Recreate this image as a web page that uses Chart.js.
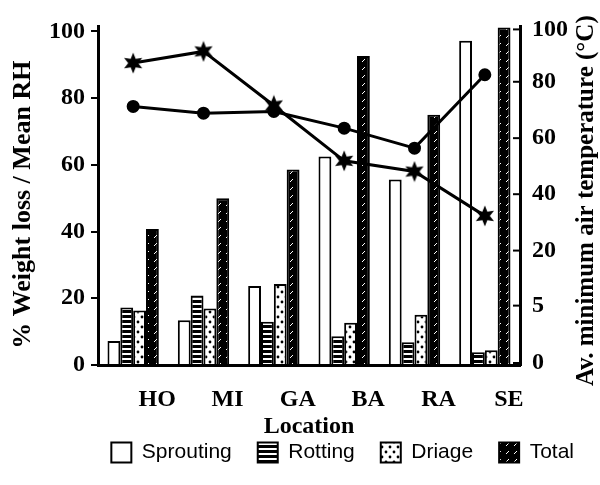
<!DOCTYPE html>
<html><head><meta charset="utf-8">
<script src="https://cdn.jsdelivr.net/npm/chart.js@4"></script>
<style>html,body{margin:0;padding:0;background:#fff}</style>
</head><body>
<canvas id="c" width="600" height="485"></canvas>
<script>
// ---- data ----
const locations = ['HO', 'MI', 'GA', 'BA', 'RA', 'SE'];
const sprouting = [7.2, 13.4, 23.7, 62.5, 55.6, 97.2];
const rotting   = [17.2, 20.8, 13.0, 8.6, 6.8, 3.8];
const driage    = [16.3, 16.9, 24.3, 12.7, 15.1, 4.4];
const total     = [40.8, 50.0, 58.6, 92.6, 75.0, 101.2];
const meanRH    = [77.5, 75.5, 76.0, 71.0, 65.0, 87.0];   // circle markers
const minTemp   = [90.5, 94.0, 77.8, 61.2, 58.0, 44.7];   // star markers
const leftTicks = [0, 20, 40, 60, 80, 100];
const rightTickLabels = ['0', '5', '20', '40', '60', '80', '100'];
const rightTickValues = [0.6, 17.8, 34.3, 51.2, 68.0, 84.9, 100.6];
const leftTitle = '% Weight loss / Mean RH';
const rightTitle = 'Av. minimum air temperature (°C)';

const SERIF = '"Liberation Serif", "Times New Roman", serif';

function makePattern(kind) {
  const c = document.createElement('canvas');
  const x = c.getContext('2d');
  if (kind === 'h') {
    c.width = 4; c.height = 5;
    x.fillStyle = '#fff'; x.fillRect(0, 0, 4, 5);
    x.fillStyle = '#000'; x.fillRect(0, 0, 4, 3);
  } else if (kind === 'dot') {
    c.width = 8; c.height = 10;
    x.fillStyle = '#fff'; x.fillRect(0, 0, 8, 10);
    x.fillStyle = '#000';
    x.beginPath(); x.arc(2, 2, 1.4, 0, Math.PI * 2); x.fill();
    x.beginPath(); x.arc(6, 7, 1.4, 0, Math.PI * 2); x.fill();
  } else {
    c.width = 8; c.height = 8;
    x.fillStyle = '#000'; x.fillRect(0, 0, 8, 8);
    x.strokeStyle = '#fff'; x.lineWidth = 1;
    x.beginPath(); x.moveTo(2, 6); x.lineTo(5, 3); x.stroke();
  }
  return x.createPattern(c, 'repeat');
}

function starImage() {
  const c = document.createElement('canvas');
  c.width = 22; c.height = 22;
  const x = c.getContext('2d');
  x.fillStyle = '#000';
  x.beginPath();
  for (let i = 0; i < 12; i++) {
    const r = i % 2 ? 5 : 10.5;
    const a = -Math.PI / 2 + i * Math.PI / 6;
    const px = 11 + r * Math.cos(a), py = 11 + r * Math.sin(a);
    if (i === 0) x.moveTo(px, py); else x.lineTo(px, py);
  }
  x.closePath(); x.fill();
  return c;
}

const axisDeco = {
  id: 'axisDeco',
  afterDraw(chart) {
    const s = chart.scales.y2;
    const l = chart.scales.y;
    const ca = chart.chartArea;
    const ctx = chart.ctx;
    ctx.save();
    ctx.strokeStyle = '#000'; ctx.lineWidth = 2;
    s.ticks.forEach(t => {
      const y = s.getPixelForValue(t.value);
      ctx.beginPath(); ctx.moveTo(s.left - 7, y); ctx.lineTo(s.left, y); ctx.stroke();
    });
    ctx.fillStyle = '#000';
    ctx.textAlign = 'center'; ctx.textBaseline = 'middle';
    // right axis title (reads bottom to top)
    ctx.save();
    ctx.translate(s.right - 13, (ca.top + ca.bottom) / 2 + 5);
    ctx.rotate(-Math.PI / 2);
    ctx.font = 'bold 25px ' + SERIF;
    ctx.fillText(rightTitle, 0, 0);
    ctx.restore();
    // left axis title
    ctx.save();
    ctx.translate(l.left + 23, (ca.top + ca.bottom) / 2 + 9);
    ctx.rotate(-Math.PI / 2);
    ctx.font = 'bold 26px ' + SERIF;
    ctx.fillText(leftTitle, 0, 0);
    ctx.restore();
    ctx.restore();
  }
};

const barCommon = { borderColor: '#000', borderWidth: 2, order: 1, yAxisID: 'y' };
const tickFont = { family: SERIF, size: 24, weight: 'bold' };

new Chart(document.getElementById('c'), {
  type: 'bar',
  data: {
    labels: locations,
    datasets: [
      Object.assign({ label: 'Sprouting', data: sprouting, backgroundColor: '#fff' }, barCommon),
      Object.assign({ label: 'Rotting', data: rotting, backgroundColor: makePattern('h') }, barCommon),
      Object.assign({ label: 'Driage', data: driage, backgroundColor: makePattern('dot') }, barCommon),
      Object.assign({ label: 'Total', data: total, backgroundColor: makePattern('diag') }, barCommon),
      { type: 'line', label: 'Mean RH', data: meanRH, borderColor: '#000', borderWidth: 3,
        pointStyle: 'circle', pointRadius: 5, pointBackgroundColor: '#000', pointBorderColor: '#000',
        fill: false, tension: 0, order: 0, yAxisID: 'y' },
      { type: 'line', label: 'Av. minimum air temperature', data: minTemp, borderColor: '#000', borderWidth: 3,
        pointStyle: starImage(), pointRadius: 10,
        fill: false, tension: 0, order: 0, yAxisID: 'y' }
    ]
  },
  options: {
    responsive: false,
    animation: false,
    devicePixelRatio: 1,
    categoryPercentage: 0.73,
    barPercentage: 1.0,
    layout: { padding: { left: 0, right: 0, top: 22, bottom: 12 } },
    plugins: {
      tooltip: { enabled: false },
      legend: {
        position: 'bottom',
        align: 'end',
        labels: {
          filter: (item) => item.datasetIndex < 4,
          boxWidth: 20, boxHeight: 20, padding: 26,
          color: '#000',
          font: { family: '"Liberation Sans", Arial, sans-serif', size: 21 }
        }
      }
    },
    scales: {
      x: {
        type: 'category',
        offset: true,
        grid: { display: false },
        border: { display: true, width: 3, color: '#000' },
        ticks: { color: '#000', font: tickFont, labelOffset: 24, padding: 12, maxRotation: 0, autoSkip: false },
        title: { display: true, text: 'Location', color: '#000', font: tickFont, padding: { top: 0, bottom: -25 } },
        afterFit(s) { s.height = 51; }
      },
      y: {
        position: 'left',
        min: 0, max: 101.5,
        afterBuildTicks(s) { s.ticks = leftTicks.map(v => ({ value: v })); },
        grid: { drawOnChartArea: false, color: '#000', lineWidth: 2, tickLength: 7 },
        border: { display: true, width: 3, color: '#000' },
        ticks: { color: '#000', font: tickFont, padding: 6 },
        afterFit(s) { s.width = 98; }
      },
      y2: {
        position: 'right',
        min: 0, max: 101.5,
        afterBuildTicks(s) { s.ticks = rightTickValues.map(v => ({ value: v })); },
        grid: { drawOnChartArea: false, drawTicks: false },
        border: { display: true, width: 3, color: '#000' },
        ticks: { color: '#000', font: tickFont, padding: 12, callback: (v, i) => rightTickLabels[i] },
        afterFit(s) { s.width = 80; }
      }
    }
  },
  plugins: [axisDeco]
});
</script>
</body></html>
